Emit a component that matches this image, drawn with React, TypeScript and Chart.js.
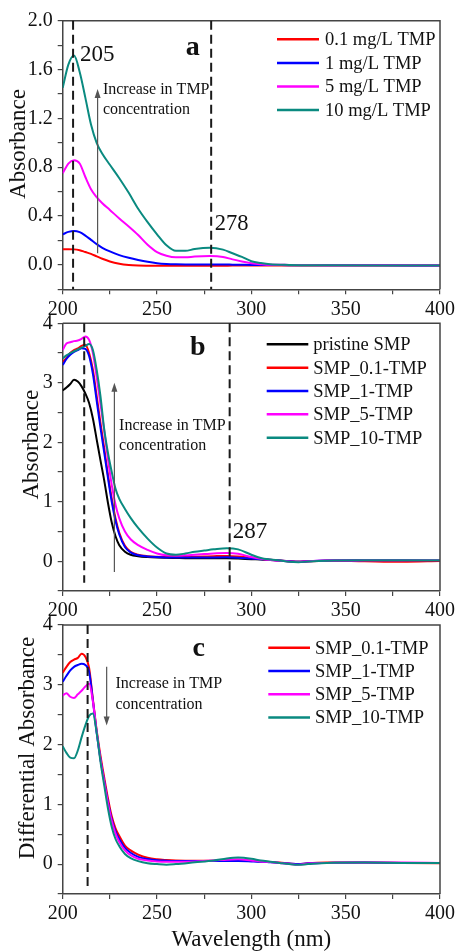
import React, { useEffect, useRef } from "react";
import { Chart, registerables } from "chart.js";

Chart.register(...registerables);

const SERIF = "'Liberation Serif', 'Times New Roman', 'DejaVu Serif', serif";
const W = 458;
const PLOT_LEFT = 62.7;
const PLOT_RIGHT = 440.7;

// ---------- Panel a ----------
const wavelengthsA = [200, 203, 206, 209, 212, 215, 218, 221, 225, 230, 235, 240, 245, 250, 255, 260, 265, 270, 278, 285, 290, 295, 300, 305, 310, 320, 340, 370, 400];
const tmp01A = [0.128, 0.128, 0.127, 0.12, 0.105, 0.09, 0.07, 0.05, 0.028, 0.01, 0.0, -0.005, -0.007, -0.008, -0.008, -0.008, -0.008, -0.008, -0.007, -0.007, -0.006, -0.006, -0.006, -0.006, -0.005, -0.005, -0.005, -0.005, -0.005];
const tmp1A = [0.25, 0.27, 0.278, 0.268, 0.24, 0.205, 0.17, 0.14, 0.11, 0.08, 0.058, 0.04, 0.025, 0.014, 0.008, 0.005, 0.004, 0.004, 0.004, 0.003, 0.002, 0.001, 0, 0, 0, -0.002, -0.003, -0.004, -0.005];
const tmp5A = [0.75, 0.83, 0.857, 0.83, 0.72, 0.62, 0.555, 0.505, 0.45, 0.38, 0.315, 0.245, 0.165, 0.105, 0.075, 0.062, 0.062, 0.068, 0.072, 0.065, 0.045, 0.028, 0.014, 0.006, 0.001, 0, -0.002, -0.004, -0.005];
const tmp10A = [1.45, 1.64, 1.714, 1.58, 1.37, 1.15, 1.0, 0.91, 0.82, 0.71, 0.59, 0.46, 0.35, 0.25, 0.16, 0.115, 0.115, 0.13, 0.14, 0.125, 0.095, 0.065, 0.03, 0.015, 0.005, 0, -0.003, -0.005, -0.005];
const legendA = ["0.1 mg/L TMP", "1 mg/L TMP", "5 mg/L TMP", "10 mg/L TMP"];

// ---------- Panel b ----------
const wavelengthsB = [200, 202, 204, 206, 208, 210, 212, 214, 216, 218, 220, 222, 224, 226, 228, 230, 233, 236, 240, 245, 250, 255, 260, 265, 270, 275, 280, 287, 293, 300, 305, 310, 315, 320, 325, 330, 340, 360, 380, 400];
const pristineB = [2.87, 2.92, 2.98, 3.05, 3.02, 2.94, 2.82, 2.66, 2.4, 2.05, 1.7, 1.36, 0.98, 0.65, 0.42, 0.27, 0.16, 0.11, 0.085, 0.07, 0.062, 0.058, 0.055, 0.052, 0.05, 0.05, 0.05, 0.05, 0.045, 0.035, 0.03, 0.02, 0.01, 0.0, -0.01, 0.0, 0.01, 0.015, 0.015, 0.015];
const smp01B = [3.35, 3.42, 3.5, 3.55, 3.58, 3.62, 3.64, 3.5, 3.22, 2.78, 2.33, 1.9, 1.45, 1.05, 0.72, 0.48, 0.26, 0.16, 0.11, 0.085, 0.075, 0.07, 0.068, 0.07, 0.075, 0.08, 0.085, 0.09, 0.08, 0.055, 0.04, 0.025, 0.012, 0.0, -0.01, 0.0, 0.01, 0.0, -0.008, 0.005];
const smp1B = [3.3, 3.4, 3.47, 3.52, 3.55, 3.58, 3.57, 3.45, 3.15, 2.7, 2.25, 1.83, 1.4, 1.0, 0.68, 0.45, 0.24, 0.15, 0.1, 0.08, 0.07, 0.065, 0.063, 0.062, 0.062, 0.063, 0.065, 0.066, 0.06, 0.045, 0.035, 0.025, 0.012, 0.0, -0.01, 0.0, 0.012, 0.015, 0.018, 0.015];
const smp5B = [3.55, 3.66, 3.68, 3.7, 3.71, 3.74, 3.78, 3.72, 3.5, 3.1, 2.65, 2.2, 1.72, 1.28, 0.95, 0.72, 0.5, 0.37, 0.27, 0.19, 0.13, 0.1, 0.095, 0.1, 0.11, 0.12, 0.13, 0.14, 0.125, 0.07, 0.04, 0.02, 0.01, -0.005, -0.012, 0.0, 0.012, 0.015, 0.018, 0.02];
const smp10B = [3.41, 3.46, 3.5, 3.53, 3.56, 3.59, 3.62, 3.65, 3.55, 3.22, 2.78, 2.22, 1.82, 1.5, 1.22, 1.05, 0.88, 0.73, 0.56, 0.38, 0.23, 0.13, 0.11, 0.13, 0.16, 0.18, 0.2, 0.22, 0.2, 0.11, 0.056, 0.03, 0.012, -0.01, -0.017, -0.005, 0.01, 0.015, 0.015, 0.015];
const legendB = ["pristine SMP", "SMP_0.1-TMP", "SMP_1-TMP", "SMP_5-TMP", "SMP_10-TMP"];

// ---------- Panel c ----------
const wavelengthsC = [200, 202, 204, 206, 208, 210, 212, 214, 216, 218, 220, 222, 224, 226, 228, 230, 233, 236, 240, 245, 250, 255, 260, 270, 280, 287, 293, 300, 305, 310, 315, 320, 325, 330, 340, 360, 380, 400];
const smp01C = [3.2, 3.3, 3.38, 3.42, 3.45, 3.52, 3.47, 3.28, 2.76, 2.24, 1.82, 1.45, 1.1, 0.8, 0.6, 0.47, 0.31, 0.23, 0.16, 0.105, 0.08, 0.068, 0.06, 0.055, 0.055, 0.06, 0.065, 0.055, 0.045, 0.035, 0.025, 0.01, 0.0, 0.015, 0.025, 0.025, 0.02, 0.015];
const smp1C = [3.05, 3.15, 3.24, 3.3, 3.33, 3.35, 3.33, 3.22, 2.74, 2.2, 1.76, 1.39, 1.04, 0.75, 0.55, 0.42, 0.27, 0.19, 0.12, 0.085, 0.065, 0.058, 0.053, 0.05, 0.05, 0.05, 0.05, 0.045, 0.04, 0.03, 0.02, 0.01, 0.0, 0.015, 0.02, 0.025, 0.02, 0.02];
const smp5C = [2.82, 2.86, 2.8, 2.78, 2.84, 2.9, 2.97, 3.02, 2.72, 2.22, 1.76, 1.38, 1.02, 0.72, 0.51, 0.37, 0.23, 0.15, 0.09, 0.06, 0.045, 0.04, 0.04, 0.045, 0.06, 0.075, 0.08, 0.06, 0.045, 0.035, 0.02, 0.005, -0.01, 0.01, 0.02, 0.025, 0.025, 0.02];
const smp10C = [1.97, 1.86, 1.78, 1.77, 1.9, 2.12, 2.32, 2.48, 2.52, 2.2, 1.72, 1.32, 0.93, 0.62, 0.42, 0.3, 0.17, 0.1, 0.05, 0.015, 0.0, -0.01, 0.0, 0.03, 0.06, 0.095, 0.11, 0.09, 0.06, 0.04, 0.02, 0.0, -0.012, 0.0, 0.02, 0.025, 0.02, 0.02];
const legendC = ["SMP_0.1-TMP", "SMP_1-TMP", "SMP_5-TMP", "SMP_10-TMP"];

const BLACK = "#000000";
const RED = "#ff0000";
const BLUE = "#0000ff";
const MAGENTA = "#ff00ff";
const TEAL = "#0a8a80";

type Series = { label: string; color: string; values: number[] };
type Note = { text: string; x: number; y: number; size: number; bold?: boolean; align: CanvasTextAlign };
type PanelCfg = {
  top: number;
  height: number;
  plotTop: number;
  plotBottom: number;
  wavelengths: number[];
  series: Series[];
  yMin: number;
  yMax: number;
  yStep: number;
  yLabelStep: number;
  yDecimals: number;
  dashed: { x: number; from: number; to: number }[];
  notes: Note[];
  arrow: { x: number; from: number; to: number };
  legend: { lineX: number; lineLen: number; textX: number; y0: number; gap: number };
  yTitle: { text: string; px: number; v: number };
  xTitle?: { text: string; py: number };
};

const panelA: PanelCfg = {
  top: 0, height: 320, plotTop: 20.7, plotBottom: 289.3,
  wavelengths: wavelengthsA,
  series: [
    { label: legendA[0], color: RED, values: tmp01A },
    { label: legendA[1], color: BLUE, values: tmp1A },
    { label: legendA[2], color: MAGENTA, values: tmp5A },
    { label: legendA[3], color: TEAL, values: tmp10A },
  ],
  yMin: -0.2, yMax: 2.0, yStep: 0.2, yLabelStep: 0.4, yDecimals: 1,
  dashed: [{ x: 205.5, from: 2.0, to: -0.2 }, { x: 278.7, from: 2.0, to: -0.2 }],
  notes: [
    { text: "205", x: 209.2, y: 1.72, size: 23, align: "left" },
    { text: "278", x: 280.6, y: 0.335, size: 22.5, align: "left" },
    { text: "a", x: 268.9, y: 1.78, size: 28, bold: true, align: "center" },
    { text: "Increase in TMP", x: 221.3, y: 1.437, size: 16, align: "left" },
    { text: "concentration", x: 221.3, y: 1.273, size: 16, align: "left" },
  ],
  arrow: { x: 218.5, from: 0.095, to: 1.44 },
  legend: { lineX: 277, lineLen: 42, textX: 325, y0: 39.3, gap: 23.6 },
  yTitle: { text: "Absorbance", px: 18.5, v: 0.99 },
};

const panelB: PanelCfg = {
  top: 305, height: 317, plotTop: 18.3, plotBottom: 286,
  wavelengths: wavelengthsB,
  series: [
    { label: legendB[0], color: BLACK, values: pristineB },
    { label: legendB[1], color: RED, values: smp01B },
    { label: legendB[2], color: BLUE, values: smp1B },
    { label: legendB[3], color: MAGENTA, values: smp5B },
    { label: legendB[4], color: TEAL, values: smp10B },
  ],
  yMin: -0.5, yMax: 4, yStep: 0.5, yLabelStep: 1, yDecimals: 0,
  dashed: [{ x: 211.4, from: 4, to: -0.36 }, { x: 288.5, from: 4, to: -0.36 }],
  notes: [
    { text: "287", x: 290.1, y: 0.5, size: 23, align: "left" },
    { text: "b", x: 271.6, y: 3.59, size: 28, bold: true, align: "center" },
    { text: "Increase in TMP", x: 229.9, y: 2.28, size: 16, align: "left" },
    { text: "concentration", x: 229.9, y: 1.94, size: 16, align: "left" },
  ],
  arrow: { x: 227.4, from: -0.18, to: 3.0 },
  legend: { lineX: 266.7, lineLen: 41.6, textX: 313.3, y0: 39.3, gap: 23.35 },
  yTitle: { text: "Absorbance", px: 31.7, v: 1.96 },
};

const panelC: PanelCfg = {
  top: 605, height: 346, plotTop: 20, plotBottom: 289,
  wavelengths: wavelengthsC,
  series: [
    { label: legendC[0], color: RED, values: smp01C },
    { label: legendC[1], color: BLUE, values: smp1C },
    { label: legendC[2], color: MAGENTA, values: smp5C },
    { label: legendC[3], color: TEAL, values: smp10C },
  ],
  yMin: -0.5, yMax: 4, yStep: 0.5, yLabelStep: 1, yDecimals: 0,
  dashed: [{ x: 213.2, from: 4, to: -0.39 }],
  notes: [
    { text: "c", x: 272.1, y: 3.61, size: 28, bold: true, align: "center" },
    { text: "Increase in TMP", x: 228.0, y: 3.02, size: 16, align: "left" },
    { text: "concentration", x: 228.0, y: 2.67, size: 16, align: "left" },
  ],
  arrow: { x: 223.3, from: 3.3, to: 2.32 },
  legend: { lineX: 268.3, lineLen: 41.7, textX: 315, y0: 42.7, gap: 23.3 },
  yTitle: { text: "Differential Absorbance", px: 27.5, v: 1.94 },
  xTitle: { text: "Wavelength (nm)", py: 335 },
};

function makeDecor(cfg: PanelCfg) {
  return {
    id: "decor",
    afterDatasetsDraw(chart: any) {
      const { ctx, chartArea: ca } = chart;
      const xs = chart.scales.x;
      const ys = chart.scales.y;
      const X = (v: number) => xs.getPixelForValue(v);
      const Y = (v: number) => ys.getPixelForValue(v);
      ctx.save();
      // frame (top and right)
      ctx.strokeStyle = "#444";
      ctx.lineWidth = 1.5;
      ctx.beginPath();
      ctx.moveTo(ca.left, ca.top);
      ctx.lineTo(ca.right, ca.top);
      ctx.lineTo(ca.right, ca.bottom);
      ctx.stroke();
      // dashed reference lines
      ctx.strokeStyle = "#1a1a1a";
      ctx.lineWidth = 2;
      ctx.setLineDash([9, 5]);
      cfg.dashed.forEach((d) => {
        const px = X(d.x);
        ctx.beginPath();
        ctx.moveTo(px, Y(d.from));
        ctx.lineTo(px, Y(d.to));
        ctx.stroke();
      });
      ctx.setLineDash([]);
      // arrow
      const a = cfg.arrow;
      const ax = X(a.x);
      const y0 = Y(a.from);
      const y1 = Y(a.to);
      const dir = y1 < y0 ? -1 : 1;
      ctx.strokeStyle = "#555";
      ctx.fillStyle = "#555";
      ctx.lineWidth = 1.2;
      ctx.beginPath();
      ctx.moveTo(ax, y0);
      ctx.lineTo(ax, y1 - dir * 6);
      ctx.stroke();
      ctx.beginPath();
      ctx.moveTo(ax, y1);
      ctx.lineTo(ax - 3, y1 - dir * 9);
      ctx.lineTo(ax + 3, y1 - dir * 9);
      ctx.closePath();
      ctx.fill();
      // notes
      ctx.fillStyle = "#111";
      ctx.textBaseline = "middle";
      cfg.notes.forEach((n) => {
        ctx.font = `${n.bold ? "bold " : ""}${n.size}px ${SERIF}`;
        ctx.textAlign = n.align;
        ctx.fillText(n.text, X(n.x), Y(n.y));
      });
      // legend
      const L = cfg.legend;
      ctx.font = `18.5px ${SERIF}`;
      ctx.textAlign = "left";
      cfg.series.forEach((s, i) => {
        const yy = L.y0 + i * L.gap;
        ctx.strokeStyle = s.color;
        ctx.lineWidth = 2.5;
        ctx.beginPath();
        ctx.moveTo(L.lineX, yy);
        ctx.lineTo(L.lineX + L.lineLen, yy);
        ctx.stroke();
        ctx.fillStyle = "#111";
        ctx.fillText(s.label, L.textX, yy + 1);
      });
      // y title
      ctx.save();
      ctx.translate(cfg.yTitle.px, Y(cfg.yTitle.v));
      ctx.rotate(-Math.PI / 2);
      ctx.font = `23px ${SERIF}`;
      ctx.textAlign = "center";
      ctx.textBaseline = "middle";
      ctx.fillStyle = "#111";
      ctx.fillText(cfg.yTitle.text, 0, 0);
      ctx.restore();
      // x title
      if (cfg.xTitle) {
        ctx.font = `23px ${SERIF}`;
        ctx.textAlign = "center";
        ctx.textBaseline = "middle";
        ctx.fillStyle = "#111";
        ctx.fillText(cfg.xTitle.text, (ca.left + ca.right) / 2, cfg.xTitle.py);
      }
      ctx.restore();
    },
  };
}

function Panel({ cfg }: { cfg: PanelCfg }) {
  const ref = useRef<HTMLCanvasElement>(null);
  useEffect(() => {
    const canvas = ref.current;
    if (!canvas) return;
    const n = cfg.series.length;
    const gridOpts = { drawOnChartArea: false, drawTicks: true, tickLength: 5, color: "#444", lineWidth: 1.2 };
    const borderOpts = { display: true, color: "#444", width: 1.5 };
    const chart = new Chart(canvas, {
      type: "line",
      data: {
        datasets: cfg.series.map((s, i) => ({
          label: s.label,
          data: cfg.wavelengths.map((w, j) => ({ x: w, y: s.values[j] })),
          borderColor: s.color,
          backgroundColor: s.color,
          borderWidth: 2,
          pointRadius: 0,
          cubicInterpolationMode: "monotone" as const,
          fill: false,
          order: n - 1 - i,
        })),
      },
      options: {
        animation: false,
        responsive: false,
        devicePixelRatio: 1,
        events: [],
        layout: { padding: { top: cfg.plotTop, right: W - PLOT_RIGHT, bottom: 0, left: 0 } },
        plugins: { legend: { display: false }, tooltip: { enabled: false } },
        scales: {
          x: {
            type: "linear",
            min: 200,
            max: 400,
            afterFit: (s: any) => {
              s.height = cfg.height - cfg.plotBottom;
            },
            ticks: {
              stepSize: 25,
              autoSkip: false,
              maxRotation: 0,
              padding: 3,
              color: "#111",
              font: { family: SERIF, size: 20 },
              callback: (v: any) => (Math.round(v) % 50 === 0 ? String(Math.round(v)) : ""),
            },
            grid: gridOpts,
            border: borderOpts,
          },
          y: {
            type: "linear",
            min: cfg.yMin,
            max: cfg.yMax,
            afterFit: (s: any) => {
              s.width = PLOT_LEFT;
            },
            ticks: {
              stepSize: cfg.yStep,
              autoSkip: false,
              padding: 5,
              color: "#111",
              font: { family: SERIF, size: 20, lineHeight: 1 },
              callback: (v: any) => {
                const r = v / cfg.yLabelStep;
                if (v < -1e-9 || Math.abs(r - Math.round(r)) > 1e-6) return "";
                return (Math.round(r) * cfg.yLabelStep).toFixed(cfg.yDecimals);
              },
            },
            grid: gridOpts,
            border: borderOpts,
          },
        },
      },
      plugins: [makeDecor(cfg)],
    } as any);
    return () => chart.destroy();
  }, [cfg]);
  return (
    <canvas
      ref={ref}
      width={W}
      height={cfg.height}
      style={{ position: "absolute", left: 0, top: cfg.top, width: W, height: cfg.height }}
    />
  );
}

export default function App() {
  return (
    <div style={{ position: "absolute", left: 0, top: 0, width: W, height: 951, background: "#fff", overflow: "hidden" }}>
      <Panel cfg={panelA} />
      <Panel cfg={panelB} />
      <Panel cfg={panelC} />
    </div>
  );
}
